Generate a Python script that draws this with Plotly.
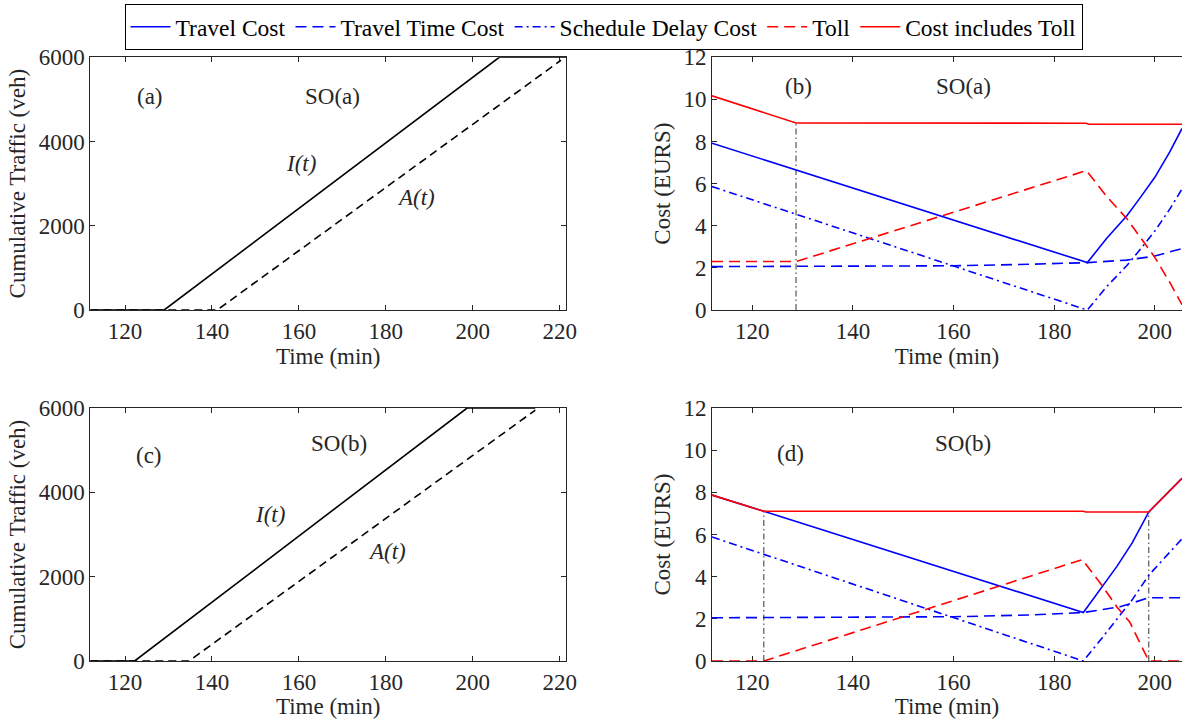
import plotly.graph_objects as go

# ---------------- data ----------------
# Panel (a): SO(a) cumulative traffic
a_I_t = [112, 129.0, 206.1, 221.5]
a_I_v = [0, 0, 6000, 6000]
a_A_t = [112, 141.2, 220.3]
a_A_v = [0, 0, 5930]
# Panel (c): SO(b) cumulative traffic
c_I_t = [112, 122.2, 198.7, 214.4]
c_I_v = [0, 0, 6000, 6000]
c_A_t = [112, 134.7, 214.4]
c_A_v = [0, 0, 5950]

# Panel (b): SO(a) costs
b_t_travel = [112, 186.6, 190.4, 194.4, 197.0, 200.0, 203.0, 205.4]
b_travel = [7.92, 2.25, 3.40, 4.46, 5.30, 6.30, 7.52, 8.62]
b_t_tt = [112, 140, 160, 175, 186.6, 194.4, 200.0, 205.4]
b_tt = [2.06, 2.07, 2.10, 2.17, 2.25, 2.37, 2.56, 2.92]
b_t_sd = [112, 186.6, 190.4, 194.4, 197.0, 200.0, 203.0, 205.4]
b_sd = [5.86, 0.0, 1.10, 2.10, 2.85, 3.75, 4.80, 5.75]
b_t_toll = [112, 128.7, 186.4, 190.4, 194.4, 197.0, 200.0, 203.0, 205.4]
b_toll = [2.30, 2.30, 6.62, 5.40, 4.35, 3.50, 2.50, 1.30, 0.25]
b_t_total = [112, 128.7, 186.3, 186.9, 205.4]
b_total = [10.17, 8.88, 8.87, 8.82, 8.82]
b_mark_t = [128.7]
b_mark_v = [8.88]

# Panel (d): SO(b) costs
d_t_travel = [112, 122.3, 185.8, 189.6, 192.5, 195.5, 198.8, 205.4]
d_travel = [7.87, 7.10, 2.30, 3.52, 4.50, 5.60, 7.07, 8.66]
d_t_tt = [112, 140, 160, 175, 185.8, 193.1, 198.8, 205.4]
d_tt = [2.05, 2.06, 2.10, 2.18, 2.30, 2.57, 3.00, 3.00]
d_t_sd = [112, 185.8, 189.6, 192.5, 195.5, 198.8, 205.4]
d_sd = [5.88, 0.0, 1.12, 1.98, 2.90, 4.07, 5.80]
d_t_toll = [112, 122.3, 185.6, 189.6, 192.5, 195.0, 198.8, 205.4]
d_toll = [0, 0, 4.81, 3.55, 2.55, 1.85, 0, 0]
d_t_total = [112, 122.3, 185.8, 186.3, 198.8, 205.4]
d_total = [7.87, 7.10, 7.10, 7.07, 7.07, 8.66]
d_mark_t = [122.3, 198.8]
d_mark_v = [7.10, 7.07]

x_ticks_left = [120, 140, 160, 180, 200, 220]
x_ticks_right = [120, 140, 160, 180, 200]
y_ticks_left = [0, 2000, 4000, 6000]
y_ticks_right = [0, 2, 4, 6, 8, 10, 12]

series_names = ["Travel Cost", "Travel Time Cost", "Schedule Delay Cost", "Toll", "Cost includes Toll"]

# ---------------- style ----------------
FONT = "Liberation Serif"
AX = "#262626"
BLUE = "rgb(0,0,255)"
RED = "rgb(255,0,0)"
LW = 1.6
DASH = "11px,6px"
DASHDOT = "8px,4px,2px,4px"
FS = 23

fig = go.Figure()

def line(x, y, xa, ya, color, dash, name=None, legend=False, width=LW):
    fig.add_trace(go.Scatter(x=x, y=y, xaxis=xa, yaxis=ya, mode="lines",
                             line=dict(color=color, dash=dash, width=width),
                             name=name, showlegend=legend, hoverinfo="skip"))

# left panels
line(a_I_t, a_I_v, "x", "y", "black", "solid")
line(a_A_t, a_A_v, "x", "y", "black", "8px,5px")
line(c_I_t, c_I_v, "x3", "y3", "black", "solid")
line(c_A_t, c_A_v, "x3", "y3", "black", "8px,5px")

# right panels
for (xa, ya, tt, tv, t2, v2, t3, v3, t4, v4, t5, v5, mt, mv, leg) in [
    ("x2", "y2", b_t_travel, b_travel, b_t_tt, b_tt, b_t_sd, b_sd, b_t_toll, b_toll,
     b_t_total, b_total, b_mark_t, b_mark_v, True),
    ("x4", "y4", d_t_travel, d_travel, d_t_tt, d_tt, d_t_sd, d_sd, d_t_toll, d_toll,
     d_t_total, d_total, d_mark_t, d_mark_v, False),
]:
    for t, v in zip(mt, mv):
        line([t, t], [0, v], xa, ya, "#333333", "6px,3px,1.5px,3px", width=1)
    line(tt, tv, xa, ya, BLUE, "solid", series_names[0], leg)
    line(t2, v2, xa, ya, BLUE, DASH, series_names[1], leg)
    line(t3, v3, xa, ya, BLUE, DASHDOT, series_names[2], leg)
    line(t4, v4, xa, ya, RED, DASH, series_names[3], leg)
    line(t5, v5, xa, ya, RED, "solid", series_names[4], leg)

W, H = 1182, 719
xL = [90.3 / W, 566.2 / W]
xR = [712 / W, 1.0]
yT = [1 - 310 / H, 1 - 57.3 / H]
yB = [1 - 661 / H, 1 - 408 / H]

tickfont = dict(family=FONT, size=FS, color=AX)
titlefont = dict(family=FONT, size=FS, color=AX)

def xax(domain, anchor, rng, ticks):
    return dict(domain=domain, anchor=anchor, range=rng, tickvals=ticks,
                ticks="inside", ticklen=5, tickcolor=AX, showline=True, linecolor=AX,
                linewidth=1, mirror="ticks", showgrid=False, zeroline=False,
                tickfont=tickfont, layer="below traces", automargin=False,
                title=dict(text="Time (min)", font=titlefont, standoff=2))

def yax(domain, anchor, rng, ticks, title, mirror, standoff):
    return dict(domain=domain, anchor=anchor, range=rng, tickvals=ticks,
                ticks="inside", ticklen=5, tickcolor=AX, showline=True, linecolor=AX,
                linewidth=1, mirror=mirror, showgrid=False, zeroline=False,
                tickfont=tickfont, layer="below traces", automargin=False,
                title=dict(text=title, font=titlefont, standoff=standoff))

def rticks(overlay, anchor, domain):
    return dict(overlaying=overlay, anchor=anchor, side="right", domain=domain,
                range=[0, 12], tickvals=y_ticks_right, ticks="inside", ticklen=5,
                tickcolor=AX, showline=False, showticklabels=False, showgrid=False,
                zeroline=False, automargin=False)

fig.update_layout(
    width=W, height=H,
    margin=dict(l=0, r=0, t=0, b=0, autoexpand=False),
    paper_bgcolor="white", plot_bgcolor="white",
    font=dict(family=FONT, size=FS, color=AX),
    xaxis=xax(xL, "y", [112, 221.5], x_ticks_left),
    yaxis=yax(yT, "x", [0, 6000], y_ticks_left, "Cumulative Traffic (veh)", "ticks", 6),
    xaxis2=xax(xR, "y2", [112, 205.4], x_ticks_right),
    yaxis2=yax(yT, "x2", [0, 12], y_ticks_right, "Cost (EURS)", False, 6),
    xaxis3=xax(xL, "y3", [112, 221.5], x_ticks_left),
    yaxis3=yax(yB, "x3", [0, 6000], y_ticks_left, "Cumulative Traffic (veh)", "ticks", 6),
    xaxis4=xax(xR, "y4", [112, 205.4], x_ticks_right),
    yaxis4=yax(yB, "x4", [0, 12], y_ticks_right, "Cost (EURS)", False, 6),
    yaxis5=rticks("y2", "x2", yT),
    yaxis6=rticks("y4", "x4", yB),
    legend=dict(orientation="h", x=0.5106, xanchor="center", y=1 - 4 / H, yanchor="top",
                bordercolor="black", borderwidth=1, bgcolor="white", itemwidth=40,
                font=dict(family=FONT, size=23.5, color="black")),
    showlegend=True,
)

ann = [
    ("x", "y", 125.8, 5065, "(a)"), ("x", "y", 167.8, 5065, "SO(a)"),
    ("x", "y", 160.5, 3483, "<i>I(t)</i>"), ("x", "y", 186.9, 2667, "<i>A(t)</i>"),
    ("x3", "y3", 125.6, 4866, "(c)"), ("x3", "y3", 169.3, 5168, "SO(b)"),
    ("x3", "y3", 153.3, 3480, "<i>I(t)</i>"), ("x3", "y3", 180.3, 2591, "<i>A(t)</i>"),
    ("x2", "y2", 129.1, 10.6, "(b)"), ("x2", "y2", 161.9, 10.6, "SO(a)"),
    ("x4", "y4", 127.6, 9.86, "(d)"), ("x4", "y4", 161.9, 10.3, "SO(b)"),
]
for xa, ya, x, y, t in ann:
    fig.add_annotation(x=x, y=y, xref=xa, yref=ya, text=t, showarrow=False,
                       font=dict(family=FONT, size=FS, color=AX))

# the page's default 8px body margin would shift the fixed-size figure; remove it
fig.write_html("out.html", config={"displayModeBar": False},
               post_script="document.body.style.margin='0';document.body.style.overflow='hidden';")
